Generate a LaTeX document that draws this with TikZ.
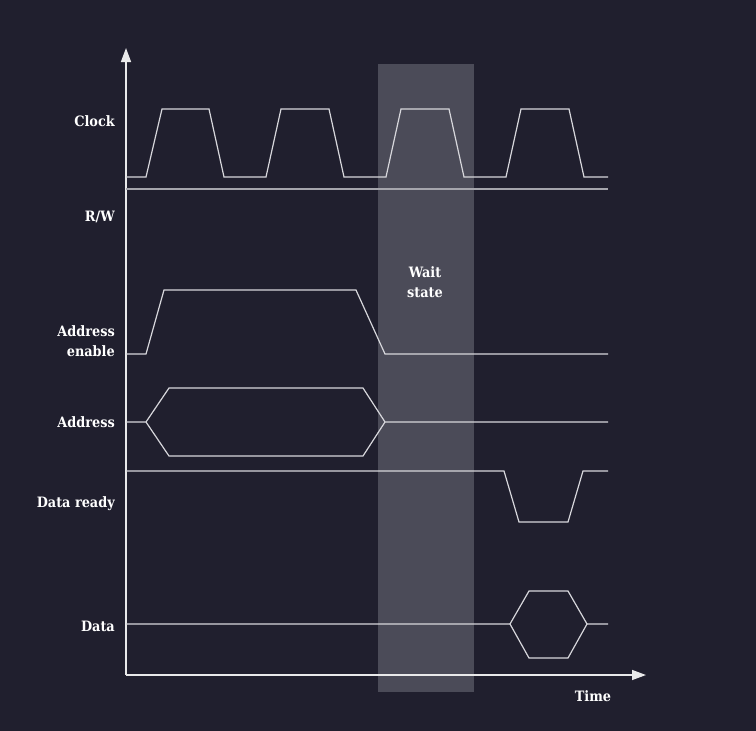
\documentclass[tikz,border=0pt]{standalone}
\usepackage{fontspec}
\setmainfont{DejaVu Serif Condensed}
\usetikzlibrary{arrows.meta}
\definecolor{bgcol}{RGB}{32,31,46}
\definecolor{shadecol}{RGB}{75,75,88}
\definecolor{wavecol}{RGB}{215,215,220}
\definecolor{rwcol}{RGB}{165,165,172}
\begin{document}
\begin{tikzpicture}
[x=1pt, y=-1pt, font=\fontsize{14.3}{20}\selectfont\bfseries]
\tikzstyle{wave}=[draw=wavecol, line width=1.2pt, line join=miter]
\tikzstyle{axis}=[draw=white!90!bgcol, line width=1.4pt, -{Triangle[length=14pt, width=10pt]}]
\tikzstyle{signame}=[anchor=east, align=right, text=white, inner sep=0pt]

\fill[bgcol] (0,0) rectangle (756,731);
\fill[shadecol] (378,64) rectangle (474,692);

% axes
\coordinate (O)    at (126,675);
\coordinate (ytop) at (126,48);
\coordinate (xend) at (646,675);
\draw[axis] (O) -- (ytop);
\draw[axis] (O) -- (xend);

% signal names
\node[signame] (clock)  at (115,121) {Clock};
\node[signame] (rw)     at (115,217) {R/W};
\node[signame] (aen)    at (115,341) {Address\\enable};
\node[signame] (addr)   at (115,422) {Address};
\node[signame] (drdy)   at (115,504) {Data ready};
\node[signame] (data)   at (115,626) {Data};
\node[text=white, inner sep=0pt] (time) at (593,696) {Time};
\node[text=white, align=center, inner sep=0pt] (wait) at (425,282) {Wait\\state};

% clock
\draw[wave] (126,177) -- (146,177)
  -- (162,109) -- (209,109) -- (224,177) -- (266,177)
  -- (281,109) -- (329,109) -- (344,177) -- (386,177)
  -- (401,109) -- (449,109) -- (464,177) -- (506,177)
  -- (521,109) -- (569,109) -- (584,177) -- (608,177);

% R/W
\draw[draw=rwcol, line width=1.8pt] (126,189) -- (608,189);

% address enable
\draw[wave] (126,354) -- (146,354) -- (164,290) -- (356,290) -- (385,354) -- (608,354);

% address
\draw[wave] (126,422) -- (146,422) -- (169,388) -- (363,388) -- (385,422) -- (608,422);
\draw[wave] (146,422) -- (169,456) -- (363,456) -- (385,422);

% data ready
\draw[wave] (126,471) -- (504,471) -- (519,522) -- (568,522) -- (583,471) -- (608,471);

% data
\draw[wave] (126,624) -- (510,624) -- (529,591) -- (568,591) -- (587,624) -- (608,624);
\draw[wave] (510,624) -- (529,658) -- (568,658) -- (587,624);
\end{tikzpicture}
\end{document}
